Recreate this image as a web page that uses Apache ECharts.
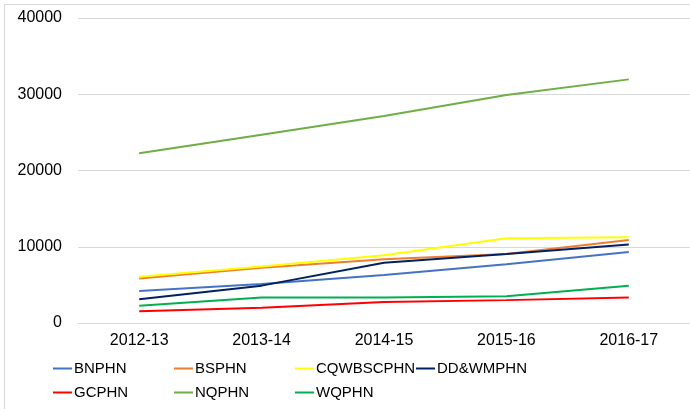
<!DOCTYPE html>
<html>
<head>
<meta charset="utf-8">
<script src="https://cdn.jsdelivr.net/npm/echarts@6/dist/echarts.min.js"></script>
<style>
  html, body { margin: 0; padding: 0; background: #fff; }
  #frame { position: absolute; left: 4px; top: 4px; width: 700px; height: 420px; border: 1px solid #d9d9d9; box-sizing: border-box; }
  #main { position: absolute; left: 0; top: 0; width: 690px; height: 409px; }
</style>
</head>
<body>
<div id="frame"></div>
<div id="main"></div>
<script>
// categories (financial years)
const years = ["2012-13", "2013-14", "2014-15", "2015-16", "2016-17"];

// series values
const bnphn = [4200, 5100, 6300, 7700, 9300];
const bsphn = [5850, 7250, 8350, 9050, 10900];
const cqwbscphn = [6050, 7400, 8900, 11100, 11250];
const ddwmphn = [3100, 4900, 7900, 9050, 10300];
const gcphn = [1550, 2000, 2750, 3000, 3350];
const nqphn = [22250, 24700, 27150, 29900, 31950];
const wqphn = [2250, 3350, 3350, 3500, 4900];

const names = ["BNPHN", "BSPHN", "CQWBSCPHN", "DD&WMPHN", "GCPHN", "NQPHN", "WQPHN"];
const values = [bnphn, bsphn, cqwbscphn, ddwmphn, gcphn, nqphn, wqphn];
const colors = ["#4472C4", "#ED7D31", "#FFFF00", "#002060", "#FF0000", "#70AD47", "#00B050"];

const font = "Liberation Sans, Arial, sans-serif";

// one legend per entry so the columns line up like the original
const legendLeft = [53, 174, 295, 416];
const legendTop = [361, 385];
const legends = names.map((n, i) => ({
  data: [n],
  left: legendLeft[i % 4],
  top: legendTop[Math.floor(i / 4)],
  icon: "rect",
  itemWidth: 19,
  itemHeight: 2,
  padding: 0,
  textStyle: { fontFamily: font, fontSize: 15, color: "#000", padding: [0, 0, 0, -3] }
}));

const chart = echarts.init(document.getElementById("main"));
chart.setOption({
  animation: false,
  color: colors,
  grid: { left: 78, right: 0, top: 18, bottom: 86 },
  legend: legends,
  xAxis: {
    type: "category",
    data: years,
    boundaryGap: true,
    axisLine: { lineStyle: { color: "#d9d9d9", width: 1 } },
    axisTick: { show: false },
    axisLabel: { fontFamily: font, fontSize: 16, color: "#000", margin: 10 }
  },
  yAxis: {
    type: "value",
    min: 0,
    max: 40000,
    interval: 10000,
    axisLine: { show: false },
    axisTick: { show: false },
    splitLine: { lineStyle: { color: "#d9d9d9", width: 1 } },
    axisLabel: { fontFamily: font, fontSize: 16, color: "#000", margin: 16, formatter: (v) => String(v) }
  },
  series: names.map((n, i) => ({
    name: n,
    type: "line",
    data: values[i],
    showSymbol: false,
    lineStyle: { width: 2, color: colors[i] },
    itemStyle: { color: colors[i] }
  }))
});
</script>
</body>
</html>
